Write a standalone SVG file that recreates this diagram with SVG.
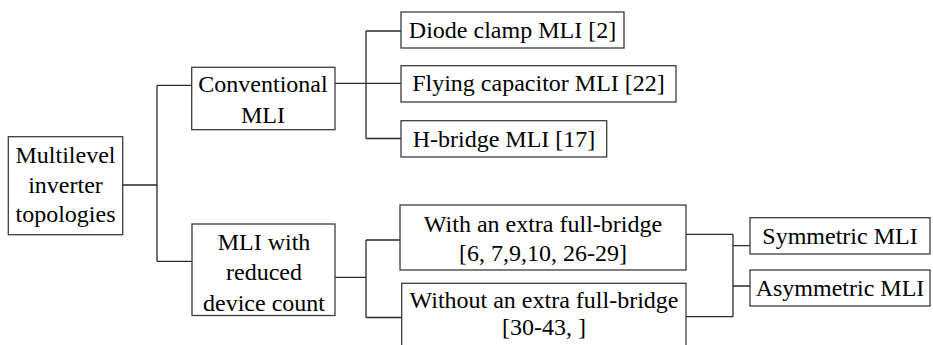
<svg xmlns="http://www.w3.org/2000/svg" width="933" height="345" viewBox="0 0 933 345">
<style>
.box{fill:#fff;stroke:#3c3c3c;stroke-width:1.3}
text{font-family:'Liberation Serif','Times New Roman',serif;font-size:24px;fill:#000;text-anchor:middle}
.c{fill:none;stroke:#2a2a2a;stroke-width:1.3}
</style>
<rect width="933" height="345" fill="#fff"/>
<g id="connectors">
<path class="c" d="M123,185 H157 M157,85.3 V261.3 M157,85.3 H192 M157,261.3 H192"/>
<path class="c" d="M335,83.3 H366 M366,31 V138.5 M366,31 H401 M366,83.3 H401 M366,138.5 H401"/>
<path class="c" d="M335,277.3 H366 M366,240 V317.5 M366,240 H400 M366,317.5 H401.7"/>
<path class="c" d="M686,234.3 H733 M686,316.7 H733 M733,234.3 V316.7 M733,245.7 H750 M733,286 H750"/>
</g>
<g id="root">
<rect class="box" x="8.3" y="136.7" width="114.4" height="98"/>
<text x="65.5" y="162.7">Multilevel</text>
<text x="65.5" y="193.3">inverter</text>
<text x="65.5" y="222">topologies</text>
</g>
<g id="conventional">
<rect class="box" x="191.7" y="67.3" width="143.3" height="62.4"/>
<text x="263" y="91.7">Conventional</text>
<text x="263" y="123.3">MLI</text>
</g>
<g id="reduced">
<rect class="box" x="192" y="224" width="143" height="91.5"/>
<text x="264" y="250">MLI with</text>
<text x="264" y="280">reduced</text>
<text x="264" y="310.5">device count</text>
</g>
<g id="diode">
<rect class="box" x="401" y="12" width="223" height="36"/>
<text x="512.5" y="37.5">Diode clamp MLI [2]</text>
</g>
<g id="flying">
<rect class="box" x="401" y="65.7" width="275" height="36.3"/>
<text x="538.5" y="91">Flying capacitor MLI [22]</text>
</g>
<g id="hbridge">
<rect class="box" x="401" y="120.7" width="205.7" height="36.3"/>
<text x="504" y="146.5">H-bridge MLI [17]</text>
</g>
<g id="with">
<rect class="box" x="400" y="205" width="286" height="65"/>
<text x="543" y="231.7">With an extra full-bridge</text>
<text x="543" y="261">[6, 7,9,10, 26-29]</text>
</g>
<g id="without">
<rect class="box" x="401.7" y="283.3" width="284.3" height="65"/>
<text x="544" y="308.3">Without an extra full-bridge</text>
<text x="544" y="335">[30-43, ]</text>
</g>
<g id="symmetric">
<rect class="box" x="750" y="217.7" width="180" height="36.3"/>
<text x="840" y="243.5">Symmetric MLI</text>
</g>
<g id="asymmetric">
<rect class="box" x="750" y="270" width="180" height="36"/>
<text x="840" y="296">Asymmetric MLI</text>
</g>
</svg>
